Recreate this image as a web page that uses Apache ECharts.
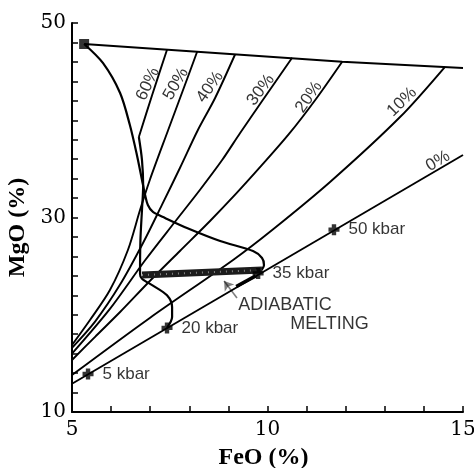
<!DOCTYPE html>
<html><head><meta charset="utf-8">
<script src="https://cdn.jsdelivr.net/npm/echarts@6/dist/echarts.min.js"></script>
<style>html,body{margin:0;padding:0;background:#fff}#c{width:474px;height:468px}</style>
</head><body><div id="c"></div>
<script>
// ---- data (FeO %, MgO %) ----
const topLine = [[5.31,47.84],[8.2,47.04],[11.91,46.02],[15,45.37]];
const line60 = [[7.43,47.25],[7.05,42.6],[6.71,38.28]];
const line50 = [[8.20,47.04],[7.84,43.11],[7.46,39.0],[6.99,33.86],[6.74,30.77],[6.43,26.66],[5.97,22.54],[5.46,19.46],[5.0,16.89]];
const line40 = [[9.17,46.76],[8.66,42.29],[8.22,39.0],[7.76,35.09],[7.30,31.29],[6.82,27.4],[6.23,23.1],[5.59,19.3],[5.0,16.6]];
const line30 = [[10.63,46.42],[9.88,42.08],[9.30,38.69],[8.84,35.91],[8.27,32.83],[7.63,29.54],[6.87,25.6],[5.97,20.6],[5.0,16.0]];
const line20 = [[11.91,46.02],[11.24,42.19],[10.55,38.59],[9.86,35.40],[9.19,32.42],[8.53,29.64],[7.76,26.56],[6.99,23.47],[6.23,20.28],[5.61,17.81],[5.0,15.35]];
const line10 = [[14.54,45.5],[13.39,40.33],[11.6,33.65],[10.12,28.71],[9.12,25.63],[6.99,19.67],[5.0,13.8]];
const line0  = [[5.0,12.9],[15.0,36.43]];
const pathA = [[6.71,38.28],[6.79,35.9],[6.82,33.3],[6.79,30.8],[6.75,27.7],[6.74,24.2],[6.79,23.7],[7.07,23.0],[7.43,22.0],[7.56,20.8],[7.56,19.77],[7.43,18.65]];
const pathB = [[5.31,47.84],[5.79,45.89],[6.23,42.80],[6.48,39.51],[6.66,36.43],[6.79,33.86],[6.87,32.31],[6.94,31.29],[7.07,30.57],[7.38,29.95],[7.94,28.92],[8.79,27.58],[9.63,26.55],[9.86,25.84],[9.91,25.12],[9.83,24.5]];
const band = [[6.79,24.09],[9.86,24.6]];
const bandTick = [[9.2,22.9],[9.7,24.0]];
const arrow = [[9.22,21.72],[8.89,23.47]];
const startPoint = [[5.31,47.84]];
const kbarNames = ['5 kbar','20 kbar','35 kbar','50 kbar'];
const kbarPoints = [[5.41,13.9],[7.43,18.65],[9.76,24.25],[11.70,28.75]];
const pctNames = ['60%','50%','40%','30%','20%','10%','0%'];
const pctPos = [[6.94,43.73],[7.66,43.73],[8.53,43.42],[9.83,43.11],[11.06,42.39],[13.44,41.88],[14.36,35.8]];
const pctRot = [65,60,55,53,55,44,31];
const noteNames = ['ADIABATIC','MELTING'];
const notePos = [[9.25,21.0],[10.58,19.05]];
const xTickLabels = [5,10,15];
const yTickLabels = [10,30,50];

const ink = '#000';
function curve(data, w, smooth){
  return {type:'line', data:data, symbol:'none', smooth:smooth, silent:true,
          lineStyle:{color:ink, width:w}, z:3};
}
const series = [
  curve(topLine, 2, false),
  curve(line60, 1.9, 0.3),
  curve(line50, 1.9, 0.3),
  curve(line40, 1.9, 0.3),
  curve(line30, 1.9, 0.3),
  curve(line20, 1.9, 0.3),
  curve(line10, 1.9, 0.3),
  curve(line0, 1.9, false),
  curve(pathA, 2.2, 0.3),
  curve(pathB, 2.2, 0.3),
  curve(bandTick, 3.5, false),
  {type:'line', data:band, symbol:'none', silent:true, z:4, lineStyle:{color:'#1c1c1c', width:7, cap:'butt'}},
  {type:'line', data:band, symbol:'none', silent:true, z:5, lineStyle:{color:'rgba(255,255,255,0.45)', width:2, type:[1,5], cap:'butt'}},
  {type:'lines', coordinateSystem:'cartesian2d', silent:true, z:5,
   symbol:['none','arrow'], symbolSize:9,
   lineStyle:{color:ink, width:1.6, curveness:0},
   data:[{coords:arrow}]},
  {type:'scatter', data:startPoint, symbol:'rect', symbolSize:10, z:6,
   itemStyle:{color:ink}},
  {type:'scatter', z:6, symbol:'path://M3,0H7V3H10V7H7V10H3V7H0V3H3Z', symbolSize:11,
   itemStyle:{color:ink},
   data:kbarPoints.map((p,i)=>({name:kbarNames[i], value:p})),
   label:{show:true, position:'right', distance:9, formatter:'{b}',
          fontFamily:'Liberation Sans', fontSize:17, color:ink}},
  {type:'scatter', z:6, symbolSize:0,
   data:pctPos.map((p,i)=>({name:pctNames[i], value:p,
     label:{rotate:pctRot[i]}})),
   label:{show:true, position:'inside', formatter:'{b}',
          fontFamily:'Liberation Sans', fontSize:17, color:ink}},
  {type:'scatter', z:6, symbolSize:0,
   data:notePos.map((p,i)=>({name:noteNames[i], value:p})),
   label:{show:true, position:'right', distance:0, formatter:'{b}',
          fontFamily:'Liberation Sans', fontSize:18, color:ink}}
];

const chart = echarts.init(document.getElementById('c'), null, {renderer:'canvas'});
chart.setOption({
  animation:false,
  backgroundColor:'#fff',
  grid:{left:72, right:11, top:23, bottom:56, containLabel:false, outerBoundsMode:'none'},
  xAxis:{type:'value', min:5, max:15, interval:1,
    name:'FeO (%)', nameLocation:'middle', nameGap:34,
    nameTextStyle:{fontFamily:'Liberation Serif', fontWeight:'bold', fontSize:24, color:ink, padding:[0,8,0,0]},
    axisLine:{lineStyle:{color:ink, width:2}},
    axisTick:{inside:true, length:6, lineStyle:{color:ink, width:1.5}},
    axisLabel:{margin:8, fontFamily:'DejaVu Serif', fontSize:20, color:ink,
      formatter:v=>xTickLabels.includes(v)?String(v):''},
    splitLine:{show:false}},
  yAxis:{type:'value', min:10, max:50, interval:2,
    name:'MgO (%)', nameLocation:'middle', nameGap:40, nameRotate:90,
    nameTextStyle:{fontFamily:'Liberation Serif', fontWeight:'bold', fontSize:24, color:ink, padding:[0,20,0,0]},
    axisLine:{lineStyle:{color:ink, width:2}},
    axisTick:{inside:true, length:6, lineStyle:{color:ink, width:1.5}},
    axisLabel:{margin:6, fontFamily:'DejaVu Serif', fontSize:20, color:ink, padding:[9,0,0,0],
      formatter:v=>yTickLabels.includes(v)?String(v):''},
    splitLine:{show:false}},
  series:series
});
</script></body></html>
